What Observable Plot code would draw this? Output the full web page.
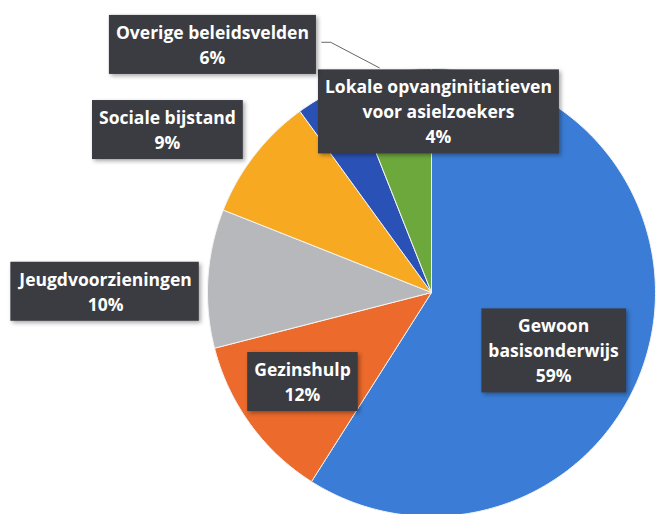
<!DOCTYPE html>
<html><head><meta charset="utf-8">
<script src="https://cdn.jsdelivr.net/npm/d3@7"></script>
<script src="https://cdn.jsdelivr.net/npm/@observablehq/plot@0.6"></script>
<style>html,body{margin:0;padding:0;background:#fff;} svg{display:block;}</style>
</head><body><div id="chart"></div>
<script>
// ---- data ----
const categories = ["Gewoon basisonderwijs", "Gezinshulp", "Jeugdvoorzieningen", "Sociale bijstand", "Lokale opvanginitiatieven voor asielzoekers", "Overige beleidsvelden"];
const labelLines = [["Gewoon", "basisonderwijs"], ["Gezinshulp"], ["Jeugdvoorzieningen"], ["Sociale bijstand"], ["Lokale opvanginitiatieven", "voor asielzoekers"], ["Overige beleidsvelden"]];
const shares = [59, 12, 10, 9, 4, 6];
// ---- styling / layout ----
const colors = ["#3b7dd6", "#ec6a2c", "#b7b8bb", "#f7aa21", "#2a52b6", "#6da83c"];
// label centres in chart units (pie radius = 1)
const labelXY = [[0.545, -0.254], [-0.576, -0.393], [-1.455, 0.01], [-1.179, 0.732], [0.031, 0.813], [-0.978, 1.112]];

const cum = [0];
shares.forEach(s => cum.push(cum[cum.length - 1] + s));
const total = cum[cum.length - 1];

const wedgePts = [];
categories.forEach((name, i) => {
  const a0 = cum[i] / total * 2 * Math.PI, a1 = cum[i + 1] / total * 2 * Math.PI;
  const n = Math.max(2, Math.ceil((a1 - a0) * 180 / Math.PI));
  wedgePts.push({name, x: 0, y: 0});
  for (let k = 0; k <= n; k++) {
    const a = a0 + (a1 - a0) * k / n;
    wedgePts.push({name, x: Math.sin(a), y: Math.cos(a)});
  }
  wedgePts.push({name, x: 0, y: 0});
});

const labels = categories.map((name, i) => ({
  name, x: labelXY[i][0], y: labelXY[i][1],
  text: labelLines[i].join("\n") + "\n" + shares[i] + "%"
}));

// leader line for "Overige beleidsvelden"
const oi = 5;
const mid = (cum[oi] + cum[oi + 1]) / 2 / total * 2 * Math.PI;
const leader = [
  {x: -0.49, y: labelXY[oi][1] + 0.005},
  {x: -0.45, y: labelXY[oi][1] + 0.005},
  {x: 1.03 * Math.sin(mid - 0.04), y: 1.03 * Math.cos(mid - 0.04)}
];

const svg = Plot.plot({
  width: 656, height: 514, margin: 0,
  style: {background: "#fff", overflow: "visible"},
  x: {domain: [-1, 1], range: [207, 655], axis: null},
  y: {domain: [-1, 1], range: [516, 68], axis: null},
  color: {domain: categories, range: colors},
  marks: [
    Plot.line(wedgePts, {x: "x", y: "y", z: "name", fill: "name", stroke: "#f4f4f4", strokeWidth: 1, strokeLinejoin: "round"}),
    Plot.line(leader, {x: "x", y: "y", stroke: "#666", strokeWidth: 1}),
    Plot.text(labels, {x: "x", y: "y", text: "text", fill: "#ffffff", fontSize: 17.5, fontWeight: 700,
      fontFamily: "Open Sans", lineHeight: 1.43})
  ]
});
document.getElementById("chart").append(svg);

// dark label boxes behind text
const padX = 7, padY = 5;
svg.querySelectorAll('g[aria-label="text"] text').forEach(t => {
  const b = t.getBBox();
  const r = document.createElementNS("http://www.w3.org/2000/svg", "rect");
  r.setAttribute("x", b.x - padX);
  r.setAttribute("y", b.y - padY);
  r.setAttribute("width", b.width + 2 * padX);
  r.setAttribute("height", b.height + 2 * padY);
  r.setAttribute("fill", "#3b3c41");
  r.setAttribute("stroke", "none");
  r.setAttribute("style", "filter: drop-shadow(2px 2px 2px rgba(0,0,0,0.35))");
  if (t.getAttribute("transform")) r.setAttribute("transform", t.getAttribute("transform"));
  t.parentNode.insertBefore(r, t);
});
</script>
</body></html>
